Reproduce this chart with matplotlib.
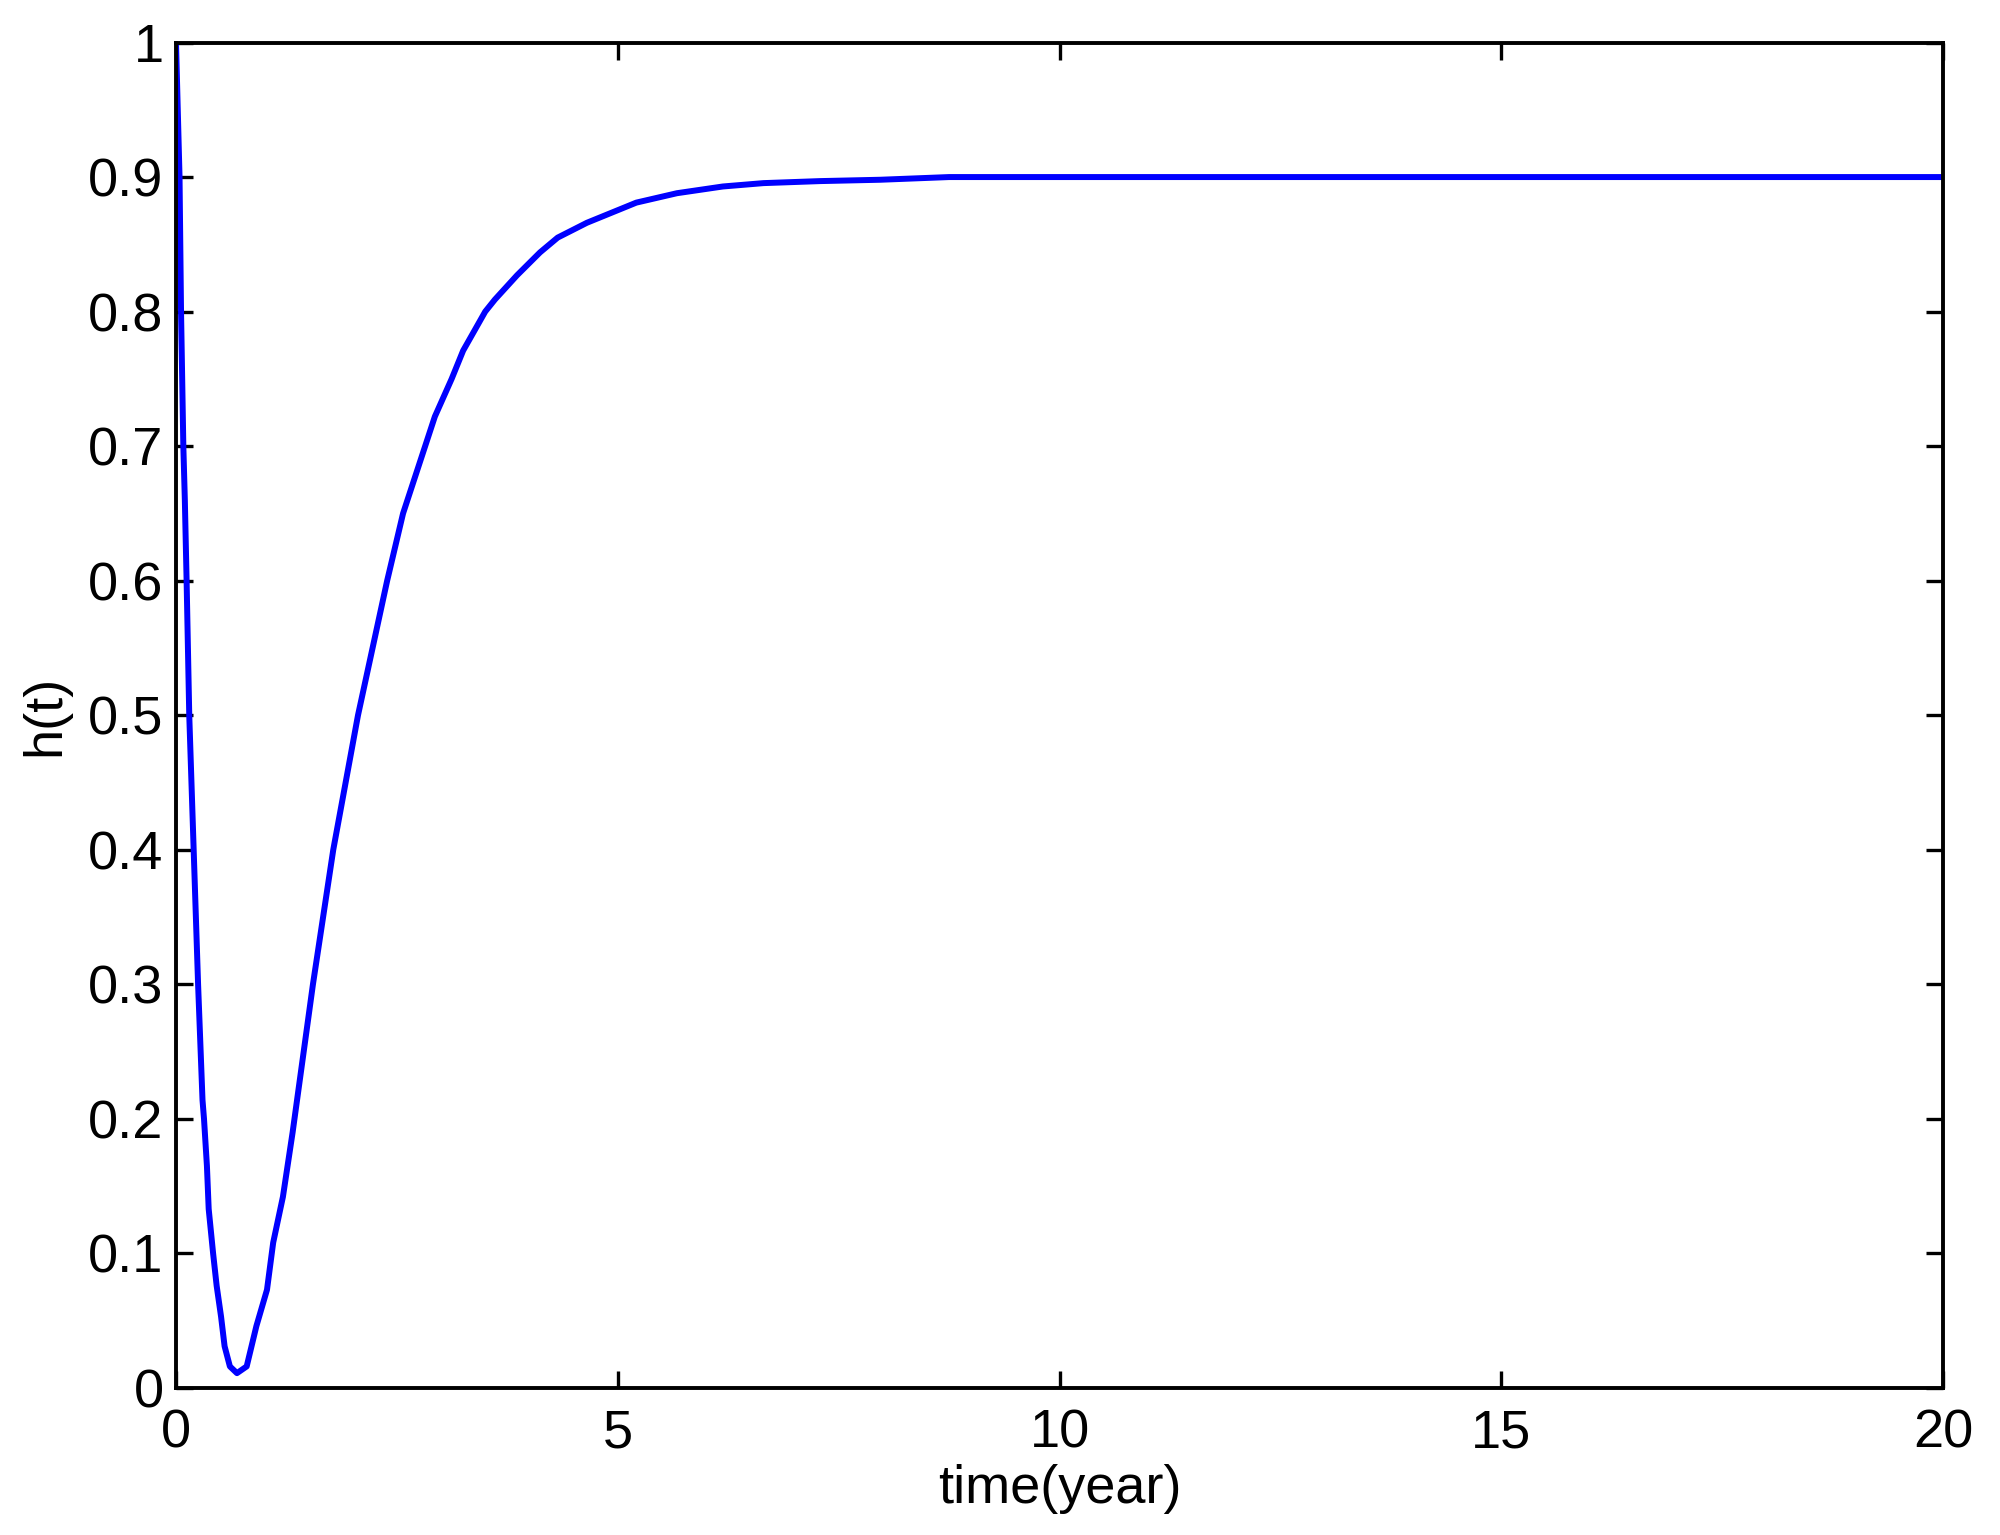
import matplotlib
matplotlib.use("Agg")
import matplotlib.pyplot as plt

# Data
t_values = [0.0, 0.02, 0.04, 0.057, 0.083, 0.10, 0.12, 0.15, 0.20, 0.25, 0.30,
            0.317, 0.35, 0.37, 0.42, 0.46, 0.51, 0.55, 0.61, 0.69, 0.80, 0.91,
            1.03, 1.10, 1.21, 1.32, 1.55, 1.78, 2.06, 2.39, 2.57, 2.82, 2.93,
            3.12, 3.25, 3.50, 3.61, 3.86, 4.12, 4.32, 4.65, 5.21, 5.67, 6.19,
            6.65, 7.29, 7.97, 8.75, 20.0]
h_values = [1.0, 0.95, 0.90, 0.80, 0.70, 0.66, 0.60, 0.50, 0.40, 0.30, 0.214,
            0.20, 0.165, 0.133, 0.10, 0.076, 0.053, 0.031, 0.016, 0.011, 0.016, 0.046,
            0.073, 0.108, 0.142, 0.19, 0.30, 0.40, 0.50, 0.60, 0.65, 0.70, 0.722,
            0.75, 0.771, 0.80, 0.809, 0.827, 0.844, 0.855, 0.866, 0.881, 0.888, 0.893,
            0.8955, 0.897, 0.898, 0.90, 0.90]

x_ticks = [0, 5, 10, 15, 20]
y_ticks = [0, 0.1, 0.2, 0.3, 0.4, 0.5, 0.6, 0.7, 0.8, 0.9, 1]
y_tick_labels = ["0", "0.1", "0.2", "0.3", "0.4", "0.5", "0.6", "0.7", "0.8", "0.9", "1"]
x_label = "time(year)"
y_label = "h(t)"

plt.rcParams['font.family'] = ['Liberation Sans', 'DejaVu Sans']

fig = plt.figure(figsize=(20, 15.35), dpi=100)
ax = fig.add_axes([0.088, 0.0958, 0.9715 - 0.088, 0.9723 - 0.0958])

ax.plot(t_values, h_values, color='#0000ff', linewidth=4.3, solid_joinstyle='round')

ax.set_xlim(0, 20)
ax.set_ylim(0, 1)
ax.set_xticks(x_ticks)
ax.set_xticklabels([str(v) for v in x_ticks])
ax.set_yticks(y_ticks)
ax.set_yticklabels(y_tick_labels)

for s in ax.spines.values():
    s.set_linewidth(2.8)
    s.set_color('black')

ax.tick_params(axis='both', direction='in', length=12.5, width=2.4,
               top=True, right=True, labelsize=39, colors='black')
ax.tick_params(axis='x', pad=15)
ax.tick_params(axis='y', pad=9)

ax.set_xlabel(x_label, fontsize=39, labelpad=4)
ax.set_ylabel(y_label, fontsize=39, labelpad=13)

fig.savefig("out.png", dpi=100, facecolor='white')
